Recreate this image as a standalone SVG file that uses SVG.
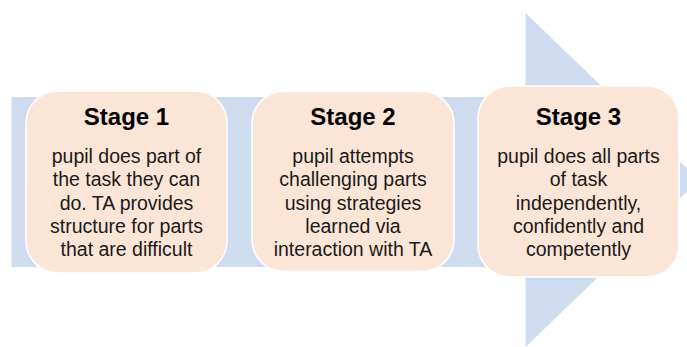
<svg xmlns="http://www.w3.org/2000/svg" width="687" height="347" viewBox="0 0 687 347">
<style>
.arrow{fill:#CFDBEE}
.box{fill:#FBE5D6;stroke:#FFFFFF;stroke-width:1.5}
.title{font-family:"Liberation Sans",Arial,sans-serif;font-weight:bold;font-size:24px;fill:#000000;text-anchor:middle}
.body{font-family:"Liberation Sans",Arial,sans-serif;font-size:19.5px;fill:#1a1a1a;text-anchor:middle}
</style>
<rect width="687" height="347" fill="#FFFFFF"/>
<g id="background-arrow">
<polygon class="arrow" points="11.5,97 525.5,97 525.5,13 699,180 525.5,347 525.5,267 11.5,267"/>
</g>
<g id="stage1">
<rect class="box" x="26" y="91" width="201" height="182" rx="32" ry="32"/>
<text class="title" x="126.5" y="125">Stage 1</text>
<text class="body" x="126.5" y="163">pupil does part of</text>
<text class="body" x="126.5" y="186">the task they can</text>
<text class="body" x="126.5" y="209.5">do. TA provides</text>
<text class="body" x="126.5" y="233">structure for parts</text>
<text class="body" x="126.5" y="256">that are difficult</text>
</g>
<g id="stage2">
<rect class="box" x="252" y="91.5" width="202" height="180" rx="32" ry="32"/>
<text class="title" x="353" y="125">Stage 2</text>
<text class="body" x="353" y="163">pupil attempts</text>
<text class="body" x="353" y="186">challenging parts</text>
<text class="body" x="353" y="209.5">using strategies</text>
<text class="body" x="353" y="233">learned via</text>
<text class="body" x="353" y="256">interaction with TA</text>
</g>
<g id="stage3">
<rect class="box" x="478" y="86" width="201" height="191" rx="32" ry="32"/>
<text class="title" x="578.5" y="125">Stage 3</text>
<text class="body" x="578.5" y="163">pupil does all parts</text>
<text class="body" x="578.5" y="186">of task</text>
<text class="body" x="578.5" y="209.5">independently,</text>
<text class="body" x="578.5" y="233">confidently and</text>
<text class="body" x="578.5" y="256">competently</text>
</g>
<g id="connectors"/>
</svg>
